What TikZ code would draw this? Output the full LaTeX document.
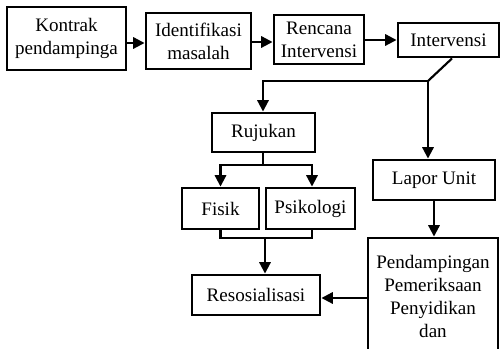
\documentclass[tikz,border=0pt]{standalone}
\usepackage{fontspec}
\setmainfont{Liberation Serif}
\usepackage{tikz}
\usetikzlibrary{arrows.meta}
\usetikzlibrary{positioning}

\begin{document}
\begin{tikzpicture}[x=0.75pt,y=-0.75pt,-{Triangle[length=8.5pt,width=8.5pt]},line width=1.6pt]
    \tikzstyle{box}=[draw,-,line width=2.2pt,align=center,inner sep=0pt,font=\fontsize{14.3}{17.25}\selectfont]
    \useasboundingbox (0,0) rectangle (501,349);

    \node[box,minimum width=89.25pt,minimum height=47.25pt] (kontrak) at (66.5,38.5) {Kontrak\\pendampinga};
    \node[box,minimum width=78.75pt,minimum height=42pt] (identifikasi) at (198.5,41) {Identifikasi\\masalah};
    \node[box,minimum width=67.5pt,minimum height=36.75pt] (rencana) at (319,39.5) {Rencana\\Intervensi};
    \node[box,minimum width=75.75pt,minimum height=25.5pt] (intervensi) at (448.5,40) {Intervensi};
    \node[box,minimum width=77.25pt,minimum height=29.25pt] (rujukan) at (263.5,132.5) {Rujukan};
    \node[box,minimum width=91.5pt,minimum height=30pt] (lapor) at (434,180) {Lapor Unit};
    \node[box,minimum width=57.75pt,minimum height=30.75pt] (fisik) at (220.5,208.5) {Fisik};
    \node[box,minimum width=66.75pt,minimum height=30.75pt] (psikologi) at (310.5,208.5) {Psikologi};
    \node[box,minimum width=96pt,minimum height=30pt] (resos) at (256,295) {Resosialisasi};
    \node[box,minimum width=97.5pt,minimum height=87.75pt] (pendamp) at (433,296.5) {Pendampingan\\Pemeriksaan\\Penyidikan\\dan};

    \coordinate (split) at (428,81);
    \coordinate (join) at (265,238);

    \draw (kontrak.east |- 0,43) -- (identifikasi.west |- 0,43);
    \draw (identifikasi.east |- 0,42) -- (rencana.west |- 0,42);
    \draw (rencana.east |- 0,40) -- (intervensi.west |- 0,40);
    \draw[-] (intervensi.south -| 452,0) -- (split);
    \draw (split) -- (263,81) -- (rujukan.north -| 263,0);
    \draw (split) -- (split |- lapor.north);
    \draw (rujukan.south -| 263,0) -- (263,165) -| (fisik.north);
    \draw (263,165) -| (psikologi.north -| 312,0);
    \draw[-] (fisik.south) -- (fisik.south |- join) -- (join -| 312,0) -- (psikologi.south -| 312,0);
    \draw (join) -- (join |- resos.north);
    \draw (lapor.south) -- (lapor.south |- pendamp.north);
    \draw (pendamp.west |- 0,298) -- (resos.east |- 0,298);
\end{tikzpicture}
\end{document}
